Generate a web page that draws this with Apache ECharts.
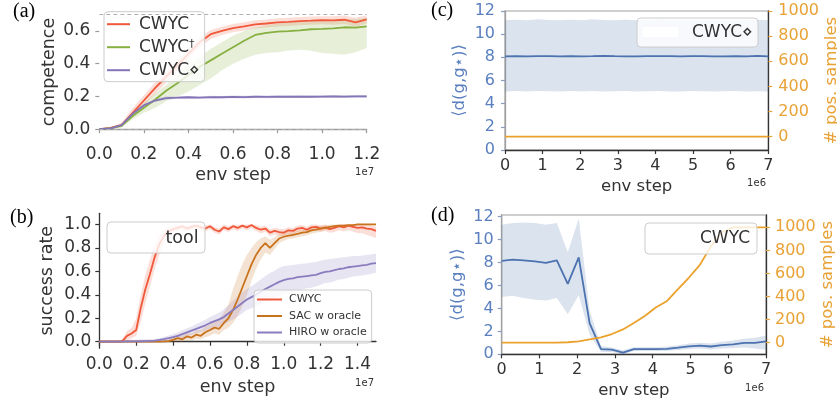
<!DOCTYPE html>
<html lang="en">
<head>
<meta charset="UTF-8">
<script src="https://cdn.jsdelivr.net/npm/echarts@6.0.0/dist/echarts.min.js"></script>
<title>CWYC</title>
<style>html,body{margin:0;padding:0;background:#fff}#main{width:837px;height:404px}</style>
</head>
<body>
<div id="main"></div>
<script>
// (a) competence vs env step (x in units of 1e7)
var xA = [0,0.05,0.1,0.15,0.2,0.25,0.3,0.35,0.4,0.45,0.5,0.55,0.6,0.65,0.7,0.75,0.8,0.85,0.9,0.95,1.0,1.05,1.1,1.15,1.2];
var cwycA   = [0,0.008,0.025,0.10,0.175,0.25,0.32,0.39,0.46,0.53,0.58,0.60,0.617,0.628,0.64,0.645,0.652,0.655,0.66,0.662,0.665,0.664,0.668,0.652,0.67];
var cwycALo = [0,0.002,0.015,0.075,0.145,0.215,0.285,0.355,0.43,0.5,0.55,0.575,0.592,0.603,0.615,0.62,0.627,0.63,0.635,0.637,0.64,0.638,0.642,0.625,0.645];
var cwycAHi = [0.004,0.014,0.04,0.13,0.205,0.285,0.355,0.425,0.49,0.56,0.605,0.625,0.642,0.653,0.665,0.67,0.677,0.68,0.685,0.687,0.69,0.69,0.694,0.68,0.695];
var daggerA   = [0,0.005,0.02,0.08,0.13,0.18,0.235,0.28,0.33,0.38,0.42,0.46,0.50,0.54,0.575,0.588,0.595,0.598,0.603,0.61,0.612,0.615,0.622,0.62,0.628];
var daggerALo = [0,0,0.01,0.06,0.10,0.13,0.17,0.20,0.23,0.27,0.31,0.36,0.40,0.43,0.455,0.465,0.47,0.48,0.485,0.478,0.465,0.46,0.455,0.47,0.495];
var daggerAHi = [0.005,0.012,0.03,0.1,0.16,0.22,0.27,0.33,0.39,0.44,0.49,0.53,0.57,0.60,0.62,0.635,0.645,0.65,0.655,0.66,0.665,0.668,0.67,0.672,0.68];
var diamA   = [0,0.005,0.025,0.095,0.145,0.175,0.19,0.192,0.195,0.193,0.196,0.195,0.197,0.196,0.198,0.197,0.198,0.198,0.199,0.198,0.199,0.2,0.199,0.2,0.2];
var diamALo = [0,0,0.017,0.085,0.135,0.166,0.181,0.184,0.187,0.185,0.188,0.187,0.189,0.188,0.19,0.189,0.19,0.19,0.191,0.19,0.191,0.192,0.191,0.192,0.192];
var diamAHi = [0.003,0.01,0.033,0.105,0.155,0.184,0.199,0.2,0.203,0.201,0.204,0.203,0.205,0.204,0.206,0.205,0.206,0.206,0.207,0.206,0.207,0.208,0.207,0.208,0.208];

// (b) success rate vs env step (x in units of 1e7)
var xB = [0,0.025,0.05,0.075,0.1,0.125,0.15,0.175,0.2,0.225,0.25,0.275,0.3,0.325,0.35,0.375,0.4,0.425,0.45,0.475,0.5,0.525,0.55,0.575,0.6,0.625,0.65,0.675,0.7,0.725,0.75,0.775,0.8,0.825,0.85,0.875,0.9,0.925,0.95,0.975,1,1.025,1.05,1.075,1.1,1.125,1.15,1.175,1.2,1.225,1.25,1.275,1.3,1.325,1.35,1.375,1.4,1.425,1.45,1.475,1.5];
var cwycB   = [0,0,0,0,0,0.005,0.05,0.07,0.10,0.29,0.45,0.58,0.72,0.83,0.90,0.94,0.96,0.97,0.985,0.965,0.98,0.99,0.975,0.965,0.985,0.955,0.94,0.975,0.96,0.985,0.97,0.99,0.975,0.995,0.97,0.955,0.965,0.93,0.945,0.935,0.93,0.95,0.945,0.965,0.97,0.955,0.975,0.98,0.965,0.975,0.96,0.97,0.985,0.975,0.99,0.98,0.97,0.975,0.965,0.96,0.945];
var cwycBLo = [0,0,0,0,0,0,0.01,0.03,0.05,0.17,0.33,0.47,0.62,0.74,0.84,0.9,0.93,0.945,0.96,0.94,0.955,0.965,0.95,0.94,0.96,0.93,0.915,0.95,0.935,0.96,0.945,0.965,0.95,0.97,0.945,0.925,0.935,0.9,0.915,0.905,0.9,0.92,0.915,0.935,0.94,0.925,0.945,0.95,0.935,0.945,0.93,0.935,0.95,0.94,0.95,0.94,0.925,0.925,0.91,0.9,0.885];
var cwycBHi = [0,0,0,0,0,0.02,0.09,0.12,0.2,0.4,0.57,0.7,0.82,0.91,0.95,0.975,0.99,0.995,1,0.99,1,1,1,0.99,1,0.98,0.965,1,0.985,1,0.995,1,1,1,0.995,0.98,0.99,0.96,0.97,0.965,0.96,0.975,0.97,0.99,0.995,0.98,1,1,0.99,1,0.985,0.995,1,1,1,1,0.995,1,0.99,0.99,0.98];
var sacB   = [0,0,0,0,0,0,0,0,0,0,0,0,0,0,0.002,0.005,0.015,0.03,0.02,0.045,0.035,0.06,0.05,0.08,0.1,0.12,0.11,0.16,0.2,0.27,0.36,0.46,0.56,0.66,0.74,0.8,0.84,0.8,0.84,0.88,0.895,0.905,0.91,0.92,0.93,0.935,0.95,0.955,0.965,0.97,0.98,0.985,0.99,0.99,0.995,0.995,1,1,1,1,1];
var sacBLo = [0,0,0,0,0,0,0,0,0,0,0,0,0,0,0,0,0,0.005,0,0.015,0.01,0.025,0.02,0.04,0.05,0.07,0.06,0.1,0.12,0.16,0.22,0.3,0.4,0.52,0.62,0.7,0.76,0.74,0.79,0.84,0.86,0.875,0.88,0.89,0.9,0.905,0.92,0.93,0.94,0.95,0.96,0.97,0.975,0.975,0.985,0.985,0.99,0.99,0.99,0.99,0.99];
var sacBHi = [0,0,0,0,0,0,0,0,0,0,0,0,0,0.005,0.01,0.02,0.04,0.06,0.05,0.08,0.07,0.1,0.1,0.13,0.15,0.18,0.19,0.25,0.32,0.45,0.56,0.66,0.74,0.8,0.85,0.88,0.9,0.87,0.89,0.92,0.93,0.935,0.94,0.95,0.96,0.965,0.975,0.98,0.99,0.99,1,1,1,1,1,1,1,1,1,1,1];
var hiroB   = [0,0,0,0,0.001,0.001,0.002,0.002,0.003,0.004,0.005,0.007,0.01,0.015,0.022,0.03,0.04,0.05,0.065,0.08,0.095,0.11,0.125,0.14,0.16,0.175,0.19,0.21,0.24,0.27,0.3,0.33,0.36,0.38,0.4,0.425,0.45,0.47,0.49,0.51,0.525,0.535,0.54,0.55,0.555,0.56,0.565,0.57,0.585,0.595,0.6,0.61,0.62,0.625,0.635,0.64,0.645,0.65,0.655,0.665,0.67];
var hiroBLo = [0,0,0,0,0,0,0,0,0,0,0,0,0,0.002,0.005,0.01,0.015,0.022,0.033,0.045,0.06,0.07,0.082,0.093,0.11,0.12,0.13,0.145,0.17,0.19,0.215,0.24,0.27,0.285,0.3,0.32,0.34,0.355,0.375,0.39,0.405,0.42,0.43,0.44,0.445,0.455,0.46,0.47,0.485,0.5,0.505,0.515,0.53,0.535,0.545,0.555,0.56,0.565,0.57,0.58,0.59];
var hiroBHi = [0.012,0.014,0.014,0.014,0.015,0.015,0.016,0.016,0.017,0.018,0.02,0.022,0.025,0.03,0.042,0.052,0.065,0.078,0.097,0.115,0.13,0.15,0.168,0.187,0.21,0.23,0.25,0.275,0.31,0.35,0.385,0.42,0.45,0.475,0.5,0.53,0.56,0.585,0.605,0.63,0.645,0.65,0.655,0.66,0.665,0.67,0.675,0.68,0.69,0.7,0.705,0.71,0.715,0.72,0.725,0.73,0.73,0.735,0.74,0.745,0.75];

// (c) and (d): distance to goal (left) and positive samples (right), x in units of 1e6
var xCD = [0,0.29,0.58,0.88,1.17,1.46,1.75,2.04,2.33,2.63,2.92,3.21,3.5,3.79,4.08,4.38,4.67,4.96,5.25,5.54,5.83,6.13,6.42,6.71,7];
var distC   = [8.08,8.1,8.09,8.11,8.1,8.08,8.1,8.09,8.1,8.12,8.1,8.09,8.08,8.1,8.11,8.1,8.09,8.11,8.1,8.08,8.09,8.1,8.09,8.12,8.08];
var distCLo = [5.05,5.1,5.05,5.1,5.08,5.05,5.1,5.06,5.1,5.05,5.08,5.1,5.05,5.08,5.1,5.06,5.05,5.1,5.08,5.05,5.08,5.1,5.05,5.08,5.05];
var distCHi = [11.2,11.25,11.2,11.28,11.22,11.2,11.25,11.2,11.28,11.22,11.2,11.25,11.2,11.22,11.28,11.2,11.25,11.2,11.22,11.2,11.25,11.2,11.22,11.25,11.2];
var posC    = [0,0,0,0,0,0,0,0,0,0,0,0,0,0,0,0,0,0,0,0,0,0,0,0,0];
var distD   = [8.15,8.25,8.2,8.1,7.98,8.2,6.15,8.45,2.7,0.45,0.4,0.15,0.45,0.45,0.45,0.48,0.58,0.7,0.75,0.68,0.8,0.87,1.0,1.0,1.12];
var distDLo = [5.0,5.1,4.9,4.75,4.7,4.9,3.5,5.15,1.7,0.2,0.2,0.0,0.28,0.28,0.28,0.3,0.38,0.45,0.5,0.42,0.5,0.55,0.6,0.5,0.4];
var distDHi = [11.3,11.45,11.5,11.45,11.3,11.45,8.9,11.85,3.8,0.7,0.6,0.35,0.62,0.62,0.62,0.68,0.8,0.95,1.0,0.95,1.1,1.2,1.35,1.45,1.65];
var posD    = [0,0,0,0,0,1,4,12,28,46,75,115,170,232,305,362,465,565,675,835,955,1000,1000,1000,1000];

// tick labels
var ticksA_x = [0,0.2,0.4,0.6,0.8,1.0,1.2];
var ticksA_y = [0,0.2,0.4,0.6];
var ticksB_x = [0,0.2,0.4,0.6,0.8,1.0,1.2,1.4];
var ticksB_y = [0,0.2,0.4,0.6,0.8,1.0];
var ticksCD_x = [0,1,2,3,4,5,6,7];
var ticksCD_l = [0,2,4,6,8,10,12];
var ticksCD_r = [0,200,400,600,800,1000];

var FONT = 'DejaVu Sans';
var TXT = '#333333';
var RED = '#f0583a', GREEN = '#86b040', PURPLE = '#8474b8';
var BROWN = '#c9731e', HIRO = '#8a7cbf';
var BLUE = '#4c72b0', ORANGE = '#eba22c';
var BLUE_T = '#5a7fbf', ORANGE_T = '#e8a236';

function pts(xs, ys) {
    return xs.map(function (x, i) { return [x, ys[i]]; });
}
function fmt1(v) { return (+v).toFixed(1); }
function fmt0(v) { return String(Math.round(v)); }

// shaded band between lo and hi, drawn as one polygon through the axes' coord()
function bandSeries(id, xi, yi, xs, lo, hi, color) {
    return {
        type: 'custom', name: id, xAxisIndex: xi, yAxisIndex: yi, silent: true, z: 2,
        data: pts(xs, lo),
        renderItem: function (params, api) {
            if (params.dataIndex !== 0) return null;
            var poly = [];
            for (var i = 0; i < xs.length; i++) poly.push(api.coord([xs[i], hi[i]]));
            for (var j = xs.length - 1; j >= 0; j--) poly.push(api.coord([xs[j], lo[j]]));
            return { type: 'polygon', shape: { points: poly }, style: { fill: color, stroke: 'none' } };
        }
    };
}
function lineSeries(name, xi, yi, xs, ys, color, extra) {
    return Object.assign({
        type: 'line', name: name, xAxisIndex: xi, yAxisIndex: yi, data: pts(xs, ys),
        symbol: 'none', color: color, lineStyle: { color: color, width: 1.8 }, z: 3
    }, extra || {});
}

function xAxisCfg(gi, max, ticks, lineColor, nameGap, fs, formatter) {
    return {
        type: 'value', gridIndex: gi, min: 0, max: max,
        axisLine: { show: true, lineStyle: { color: lineColor, width: 1.3 } },
        axisTick: { show: true, length: 4, customValues: ticks, lineStyle: { color: lineColor, width: 1.2 } },
        axisLabel: { customValues: ticks, formatter: formatter, fontSize: fs, color: TXT, fontFamily: FONT, margin: 8 },
        splitLine: { show: false },
        name: 'env step', nameLocation: 'middle', nameGap: nameGap,
        nameTextStyle: { fontSize: fs + 0.5, color: TXT, fontFamily: FONT }
    };
}
function yAxisCfg(gi, min, max, ticks, opt) {
    return {
        type: 'value', gridIndex: gi, min: min, max: max, position: opt.pos || 'left',
        axisLine: { show: opt.line !== false, lineStyle: { color: opt.lineColor || '#333', width: 1.3 } },
        axisTick: { show: true, length: 4, customValues: ticks, lineStyle: { color: opt.tickColor || '#333', width: 1.2 } },
        axisLabel: { customValues: ticks, formatter: opt.formatter, fontSize: opt.fs, color: opt.color || TXT,
            fontFamily: FONT, margin: opt.margin || 8 },
        splitLine: { show: false },
        name: opt.name, nameLocation: 'middle', nameRotate: 90, nameGap: opt.nameGap,
        nameTextStyle: { fontSize: opt.fs + 0.5, color: opt.color || TXT, fontFamily: FONT }
    };
}

var series = [
    // (a)
    bandSeries('bandA1', 0, 0, xA, cwycALo, cwycAHi, 'rgba(240,88,58,0.2)'),
    bandSeries('bandA2', 0, 0, xA, daggerALo, daggerAHi, 'rgba(134,176,64,0.2)'),
    bandSeries('bandA3', 0, 0, xA, diamALo, diamAHi, 'rgba(132,116,184,0.25)'),
    lineSeries('CWYC', 0, 0, xA, cwycA, RED),
    lineSeries('CWYC†', 0, 0, xA, daggerA, GREEN),
    lineSeries('CWYC⋄', 0, 0, xA, diamA, PURPLE, {
        markLine: {
            silent: true, symbol: 'none', label: { show: false },
            lineStyle: { color: '#b0b0b0', type: [4, 3], width: 1.2 },
            data: [{ yAxis: 0 }, { yAxis: 0.7 }]
        }
    }),
    // (b)
    bandSeries('bandB1', 1, 1, xB, cwycBLo, cwycBHi, 'rgba(240,88,58,0.2)'),
    bandSeries('bandB2', 1, 1, xB, sacBLo, sacBHi, 'rgba(201,115,30,0.2)'),
    bandSeries('bandB3', 1, 1, xB, hiroBLo, hiroBHi, 'rgba(138,124,191,0.2)'),
    lineSeries('CWYC', 1, 1, xB, cwycB, RED),
    lineSeries('SAC w oracle', 1, 1, xB, sacB, BROWN),
    lineSeries('HIRO w oracle', 1, 1, xB, hiroB, HIRO),
    // (c)
    bandSeries('bandC', 2, 2, xCD, distCLo, distCHi, 'rgba(76,114,176,0.2)'),
    lineSeries('distC', 2, 2, xCD, distC, BLUE),
    lineSeries('posC', 2, 3, xCD, posC, ORANGE),
    // (d)
    bandSeries('bandD', 3, 4, xCD, distDLo, distDHi, 'rgba(76,114,176,0.2)'),
    lineSeries('distD', 3, 4, xCD, distD, BLUE),
    lineSeries('posD', 3, 5, xCD, posD, ORANGE)
];

var boxStyle = { fill: 'rgba(255,255,255,0.8)', stroke: '#cccccc', lineWidth: 1 };
function label(text, x, y) {
    return { type: 'text', z: 100, style: { text: text, x: x, y: y, fill: '#000', fontSize: 20,
        fontFamily: 'Liberation Serif', align: 'left', verticalAlign: 'middle' } };
}
function small(text, x, y) {
    return { type: 'text', z: 100, style: { text: text, x: x, y: y, fill: TXT, fontSize: 10,
        fontFamily: FONT, align: 'right', verticalAlign: 'middle' } };
}

var myChart = echarts.init(document.getElementById('main'));
var option = {
    animation: false,
    textStyle: { fontFamily: FONT },
    grid: [
        { left: 99.3, top: 6.3, width: 267.4, height: 131.4, outerBoundsMode: 'none' },
        { left: 99.3, top: 213.3, width: 276.7, height: 134.85, outerBoundsMode: 'none' },
        { left: 505, top: 11, width: 263.3, height: 139, show: true, borderColor: '#a0a0a0', borderWidth: 1.2, outerBoundsMode: 'none' },
        { left: 501.7, top: 215, width: 264.3, height: 139.3, show: true, borderColor: '#a0a0a0', borderWidth: 1.2, outerBoundsMode: 'none' }
    ],
    xAxis: [
        xAxisCfg(0, 1.2, ticksA_x, '#9a9a9a', 29, 17, fmt1),
        xAxisCfg(1, 1.5, ticksB_x, '#333', 30, 17, fmt1),
        xAxisCfg(2, 7, ticksCD_x, '#333', 28, 16, fmt0),
        xAxisCfg(3, 7, ticksCD_x, '#333', 28, 16, fmt0)
    ],
    yAxis: [
        yAxisCfg(0, -0.052, 0.75, ticksA_y, { line: false, tickColor: '#9a9a9a', formatter: fmt1, fs: 17, margin: 9, name: 'competence', nameGap: 41 }),
        yAxisCfg(1, -0.055, 1.095, ticksB_y, { formatter: fmt1, fs: 17, margin: 8, name: 'success rate', nameGap: 43 }),
        yAxisCfg(2, 0, 12, ticksCD_l, { lineColor: '#a0a0a0', tickColor: '#8a9cc0', color: BLUE_T, formatter: fmt0, fs: 16, margin: 10, name: '⟨d(g,g⋆)⟩', nameGap: 37 }),
        yAxisCfg(2, -106, 1000, ticksCD_r, { pos: 'right', tickColor: ORANGE_T, color: ORANGE_T, formatter: fmt0, fs: 16, margin: 10, name: '# pos. samples', nameGap: 50 }),
        yAxisCfg(3, 0, 12.15, ticksCD_l, { lineColor: '#a0a0a0', tickColor: '#8a9cc0', color: BLUE_T, formatter: fmt0, fs: 16, margin: 8, name: '⟨d(g,g⋆)⟩', nameGap: 35 }),
        yAxisCfg(3, -100.6, 1107, ticksCD_r, { pos: 'right', tickColor: ORANGE_T, color: ORANGE_T, formatter: fmt0, fs: 16, margin: 9, name: '# pos. samples', nameGap: 53 })
    ],
    legend: [{
        data: ['CWYC', 'CWYC†', 'CWYC⋄'],
        orient: 'vertical', left: 104, top: 11.7, selectedMode: false,
        padding: [4, 5, 3, 3], itemGap: 6, itemWidth: 23, itemHeight: 2, icon: 'rect',
        backgroundColor: 'rgba(255,255,255,0.8)', borderColor: '#cccccc', borderWidth: 1, borderRadius: 4,
        formatter: function (name) {
            if (name === 'CWYC†') return '{m|CWYC}{s|†}';
            return '{m|' + name + '}';
        },
        textStyle: { fontSize: 17, color: TXT, fontFamily: FONT, padding: [0, 0, 0, 4],
            rich: { m: { fontSize: 17, color: TXT, fontFamily: FONT }, s: { fontSize: 11, color: TXT, verticalAlign: 'top', fontFamily: FONT } } }
    }, {
        data: ['CWYC', 'SAC w oracle', 'HIRO w oracle'],
        orient: 'vertical', left: 254, top: 290, selectedMode: false,
        padding: [4, 5, 5, 3], itemGap: 5.5, itemWidth: 25, itemHeight: 2, icon: 'rect',
        backgroundColor: 'rgba(255,255,255,0.8)', borderColor: '#cccccc', borderWidth: 1, borderRadius: 4,
        textStyle: { fontSize: 11, color: TXT, fontFamily: FONT, padding: [0, 0, 0, 2] }
    }],
    graphic: [
        label('(a)', 13, 12),
        label('(b)', 10, 217.5),
        label('(c)', 431, 11),
        label('(d)', 431, 215.5),
        { type: 'rect', z: 100, shape: { x: 107, y: 222, width: 98, height: 31, r: 4 }, style: boxStyle },
        { type: 'text', z: 101, style: { text: 'tool', x: 182, y: 238, fill: TXT, fontSize: 17.5, fontFamily: FONT, align: 'center', verticalAlign: 'middle' } },
        { type: 'rect', z: 100, shape: { x: 637, y: 18, width: 121, height: 29, r: 4 }, style: boxStyle },
        { type: 'rect', z: 101, shape: { x: 643, y: 27, width: 35, height: 10 }, style: { fill: '#ffffff' } },
        { type: 'text', z: 101, style: { text: 'CWYC⋄', x: 692, y: 33, fill: TXT, fontSize: 17, fontFamily: FONT, align: 'left', verticalAlign: 'middle' } },
        { type: 'rect', z: 100, shape: { x: 645, y: 223, width: 112, height: 31, r: 4 }, style: boxStyle },
        { type: 'text', z: 101, style: { text: 'CWYC', x: 700, y: 238.5, fill: TXT, fontSize: 17, fontFamily: FONT, align: 'left', verticalAlign: 'middle' } },
        small('1e7', 374, 172),
        small('1e7', 374, 383),
        small('1e6', 766, 183),
        small('1e6', 764, 388)
    ],
    series: series
};
myChart.setOption(option);
</script>
</body>
</html>
